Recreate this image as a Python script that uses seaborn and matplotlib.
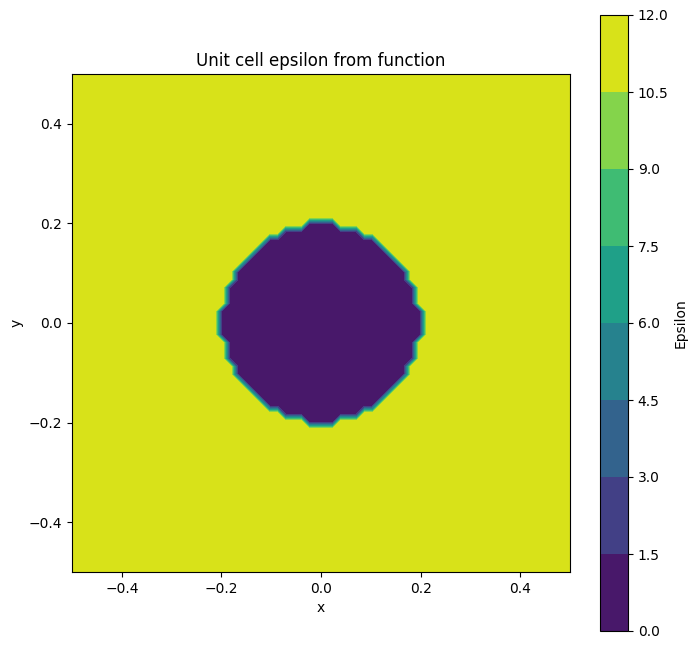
import numpy as np
import matplotlib
matplotlib.use("Agg")
import matplotlib.pyplot as plt
import seaborn as sns

# Unit cell parameters
eps_inside = 1.0
eps_outside = 12.0
radius = 0.2
n_grid = 64
levels = [0.0, 1.5, 3.0, 4.5, 6.0, 7.5, 9.0, 10.5, 12.0]

x = np.linspace(-0.5, 0.5, n_grid)
y = np.linspace(-0.5, 0.5, n_grid)
X, Y = np.meshgrid(x, y)
eps = np.where(X**2 + Y**2 < radius**2, eps_inside, eps_outside)

cmap = sns.color_palette("viridis", as_cmap=True)

fig = plt.figure(figsize=(7, 6.49), dpi=100)
ax = fig.add_axes([72 / 700, 1 - 572 / 649, 498 / 700, 498 / 649])
cax = fig.add_axes([600 / 700, 1 - 631 / 649, 28 / 700, 616 / 649])

cs = ax.contourf(X, Y, eps, levels=levels, cmap=cmap)
ax.set_aspect("equal")
ax.set_xlim(-0.5, 0.5)
ax.set_ylim(-0.5, 0.5)
ax.set_xticks([-0.4, -0.2, 0.0, 0.2, 0.4])
ax.set_yticks([-0.4, -0.2, 0.0, 0.2, 0.4])
ax.set_title("Unit cell epsilon from function")
ax.set_xlabel("x")
ax.set_ylabel("y")

cb = fig.colorbar(cs, cax=cax)
cb.set_label("Epsilon")

fig.savefig("out.png", dpi=100)
